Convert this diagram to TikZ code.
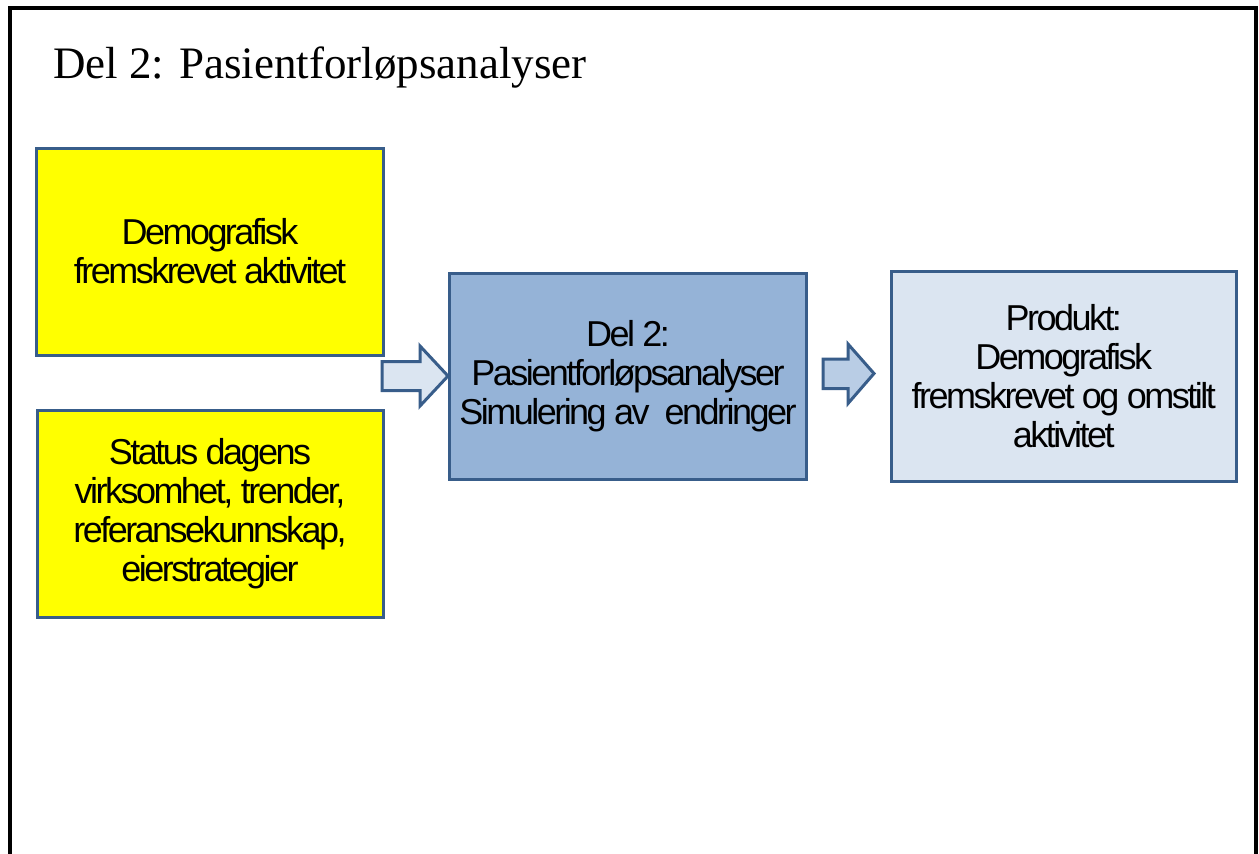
\documentclass[tikz,border=0pt]{standalone}
\usepackage{fontspec}
\usetikzlibrary{calc}
\setmainfont{Liberation Serif}
\newfontfamily\boxfont[LetterSpace=-7]{Liberation Sans}
\definecolor{edgeblue}{HTML}{385D8A}
\definecolor{inyellow}{HTML}{FFFF00}
\definecolor{midblue}{HTML}{95B3D7}
\definecolor{paleblue}{HTML}{DBE5F1}
\definecolor{arrowblue}{HTML}{B9CDE5}
\begin{document}
\begin{tikzpicture}[x=1pt,y=-1pt,
  box/.style={draw=edgeblue,line width=3pt,rectangle,inner sep=0pt,align=center,
    font={\boxfont\fontsize{36}{39}\selectfont}},
  blockarrow/.style={draw=edgeblue,line width=3pt,line join=miter}]
\useasboundingbox (0,0) rectangle (1259,854);
\fill[white] (0,0) rectangle (1259,854);
% slide frame, open at the bottom
\draw[line width=3.5pt] (10,858) -- (10,8) -- (1256,8) -- (1256,858);
% heading
\node[anchor=base west,inner sep=0pt,font=\fontsize{45}{54}\selectfont] (title) at (53,78) {Del 2: Pasientforløpsanalyser};
% input boxes
\node[box,fill=inyellow,minimum width=347pt,minimum height=207pt] (b1) at (210,251.5)
  {Demografisk\\fremskrevet aktivitet};
\node[box,fill=inyellow,minimum width=346pt,minimum height=207pt] (b2) at (210,513.5)
  {Status dagens\\virksomhet, trender,\\referansekunnskap,\\eierstrategier};
% analysis box
\node[box,fill=midblue,minimum width=357pt,minimum height=206pt] (mid) at (628,376.5)
  {Del 2:\\Pasientforløpsanalyser\\Simulering av~ endringer};
% product box
\node[box,fill=paleblue,minimum width=344.5pt,minimum height=210pt] (prod) at (1063.75,376.5)
  {Produkt:\\Demografisk\\fremskrevet og omstilt\\aktivitet};
% block arrow into the analysis box
\coordinate (t1) at ($(mid.west)+(0,-0.5)$);
\draw[blockarrow,fill=paleblue] ($(t1)+(-66,-14.5)$) -- ($(t1)+(-28,-14.5)$) -- ($(t1)+(-28,-30)$)
  -- (t1) -- ($(t1)+(-28,30)$) -- ($(t1)+(-28,14.5)$) -- ($(t1)+(-66,14.5)$) -- cycle;
% block arrow towards the product box
\coordinate (t2) at ($(prod.west)+(-16,-3)$);
\draw[blockarrow,fill=arrowblue] ($(mid.east)+(15,-17.5)$) -- ($(t2)+(-26,-14.5)$) -- ($(t2)+(-26,-29.5)$)
  -- (t2) -- ($(t2)+(-26,30)$) -- ($(t2)+(-26,15)$) -- ($(mid.east)+(15,12)$) -- cycle;
\end{tikzpicture}
\end{document}
